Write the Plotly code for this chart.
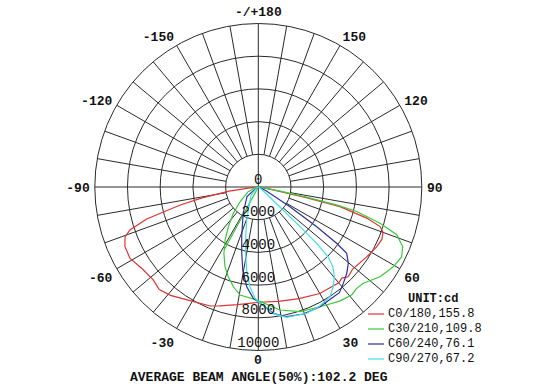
import plotly.graph_objects as go

# ---------------- data (gamma angle in degrees, intensity in cd) ----------------
c0_gamma = [-90, -86, -82, -79, -77, -74, -71.5, -69.5, -66, -61, -55, -48.5, -44, -39, -31, -22, -18,
            -10, 0, 10, 20, 30, 40, 42.5, 45, 49, 57, 63, 67, 70, 72, 74, 76.5, 77.5, 79, 84, 90]
c0_int = [0, 300, 1800, 3500, 4900, 7100, 8280, 8700, 8930, 8980, 8690, 8580, 8720, 8530, 8110, 7850, 7650,
          7300, 7050, 7100, 7270, 7520, 7650, 7560, 7770, 7650, 7880, 8110, 8210, 8120, 7830, 6900, 5140, 3000,
          1000, 200, 0]

c30_gamma = [-90, -80, -65, -51, -43.5, -37, -32, -27.4, -22.7, -18.5, -14, -9.6, 0, 10, 18.5, 27.3, 35.5,
             41, 44, 47.5, 53.6, 59.4, 64, 67.5, 71, 73.4, 76, 77, 78, 79, 84, 90]
c30_int = [0, 200, 680, 1440, 2220, 3040, 3830, 4570, 5280, 5790, 6290, 6700, 6950, 7640, 8040, 8240, 8570,
           8730, 8640, 8710, 9250, 9590, 9750, 9560, 8960, 7770, 6200, 5000, 3000, 1500, 200, 0]
c30_spoke_gamma = [-28.5, -28.5]
c30_spoke_int = [0, 4350]

c60_gamma = [-90, -60, -50, -30, -18.5, -14, -10.6, -6.6, -2.6, 0, 6.8, 12.3, 19.5, 27.3, 33, 37.5, 41.4,
             45.7, 49.7, 53.1, 54.3, 55.8, 58.1, 65, 90]
c60_int = [0, 200, 900, 1850, 3200, 4180, 5170, 6140, 6810, 7015, 7780, 8120, 8240, 8240, 8150, 8150, 7860,
           7560, 7220, 6760, 5900, 4320, 2280, 500, 0]

c90_gamma = [-90, -60, -40, -19.4, -14.2, -10.8, -8, -4.8, -1.7, 0, 6.7, 12.3, 21, 27, 33.2, 36.9, 40.3,
             43, 45, 46, 46.5, 47, 50, 60, 90]
c90_int = [0, 150, 700, 2140, 3140, 4130, 5130, 6120, 6810, 7000, 7800, 8160, 8270, 8200, 8015, 7630, 7190,
           6690, 6040, 4960, 3500, 2000, 600, 100, 0]

series_names = ["C0/180,155.8", "C30/210,109.8", "C60/240,76.1", "C90/270,67.2"]
series_colors = ["#e03434", "#3cc83c", "#2e2ea0", "#3ee0e8"]

ring_values = [0, 2000, 4000, 6000, 8000, 10000]
angle_tickvals = [30, 60, 90, 120, 150, 180, 210, 240, 270, 300, 330]
angle_ticktext = ["30", "60", "90", "120", "150", "-/+180", "-150", "-120", "-90", "-60", "-30"]
bottom_angle_label = "0"
unit_text = "UNIT:cd"
beam_text = "AVERAGE BEAM ANGLE(50%):102.2 DEG"

R_MAX = 10000
R_INNER = 2000

MONO = "Liberation Mono, Courier New, monospace"

fig = go.Figure()

# ---------------- spokes (grid) ----------------
sp_t, sp_r = [], []
for a in range(0, 360, 10):
    start = 0 if a % 90 == 0 else R_INNER
    sp_t += [a, a, None]
    sp_r += [start, R_MAX, None]
fig.add_trace(go.Scatterpolar(theta=sp_t, r=sp_r, mode="lines",
                              line=dict(color="#2a2a2a", width=1), hoverinfo="skip",
                              showlegend=False))

# ---------------- curves ----------------
curves = [
    (c0_gamma, c0_int),
    (c30_gamma + [None] + c30_spoke_gamma, c30_int + [None] + c30_spoke_int),
    (c60_gamma, c60_int),
    (c90_gamma, c90_int),
]
for (g, v), name, col in zip(curves, series_names, series_colors):
    fig.add_trace(go.Scatterpolar(theta=g, r=v, mode="lines", name=name,
                                  line=dict(color=col, width=1.2), connectgaps=False,
                                  showlegend=False))

# ---------------- ring labels ----------------
fig.add_trace(go.Scatterpolar(theta=[0] * len(ring_values), r=ring_values, mode="text",
                              text=[str(v) for v in ring_values], textposition="top center",
                              textfont=dict(family=MONO, size=14, color="#111"),
                              cliponaxis=False, hoverinfo="skip", showlegend=False))

W, H = 554, 392
cx, cy, rad = 258.3, 187.0, 163.5

fig.update_layout(
    width=W, height=H,
    margin=dict(l=0, r=0, t=0, b=0),
    paper_bgcolor="white",
    plot_bgcolor="white",
    showlegend=False,
    polar=dict(
        domain=dict(x=[(cx - rad) / W, (cx + rad) / W], y=[1 - (cy + rad) / H, 1 - (cy - rad) / H]),
        bgcolor="white",
        radialaxis=dict(range=[0, R_MAX], dtick=2000, showgrid=True, gridcolor="#2a2a2a", gridwidth=1,
                        showticklabels=False, ticks="", showline=False),
        angularaxis=dict(rotation=-90, direction="counterclockwise", tickmode="array",
                         tickvals=angle_tickvals, ticktext=angle_ticktext,
                         showgrid=False, showline=True, linecolor="#2a2a2a", linewidth=1,
                         ticks="outside", ticklen=2, tickcolor="rgba(0,0,0,0)",
                         tickfont=dict(family=MONO, size=13, color="#111", weight="bold")),
    ),
)

# angular label "0" just below the outer circle
fig.add_annotation(x=cx / W, y=1 - 360.5 / H, xref="paper", yref="paper", xanchor="center",
                   yanchor="middle", text=bottom_angle_label, showarrow=False, borderpad=0,
                   font=dict(family=MONO, size=13, color="#111", weight="bold"))

# ---------------- legend (manual) ----------------
fig.add_annotation(x=406 / W, y=1 - 299 / H, xref="paper", yref="paper", xanchor="left", yanchor="middle",
                   text=unit_text, showarrow=False,
                   font=dict(family=MONO, size=12, color="#111", weight="bold"))
rows_y = [314, 329, 344, 359]
for name, col, yy in zip(series_names, series_colors, rows_y):
    fig.add_shape(type="line", xref="paper", yref="paper", x0=368 / W, x1=384 / W,
                  y0=1 - yy / H, y1=1 - yy / H, line=dict(color=col, width=1.2))
    fig.add_annotation(x=386 / W, y=1 - yy / H, xref="paper", yref="paper", xanchor="left",
                       yanchor="middle", text=name, showarrow=False,
                       font=dict(family=MONO, size=12, color="#111"))

fig.add_annotation(x=258.5 / W, y=1 - 377.5 / H, xref="paper", yref="paper", xanchor="center",
                   yanchor="middle", text=beam_text, showarrow=False, borderpad=0,
                   font=dict(family=MONO, size=13, color="#111", weight="bold"))

fig.write_html("out.html", config={"displayModeBar": False},
               post_script="document.body.style.margin='0';document.body.style.padding='0';")
